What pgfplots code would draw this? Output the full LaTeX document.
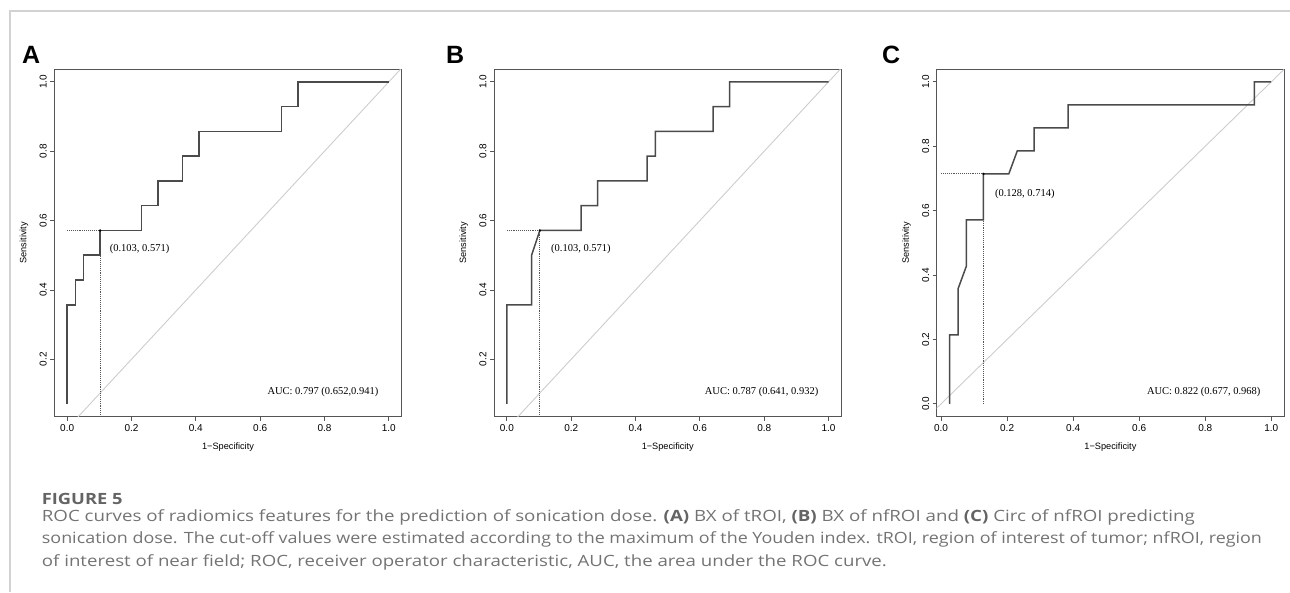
\documentclass[border=0pt]{standalone}
\usepackage{fontspec}
\usepackage{graphicx}
\usepackage{pgfplots}
\pgfplotsset{compat=1.18}
\setmainfont{Liberation Serif}
\newfontfamily\helv{Liberation Sans}
\newfontfamily\capfont{Open Sans}
\newcommand\tickfont{\helv\fontsize{10}{12}\selectfont}
\newcommand\labfont{\helv\fontsize{9.2}{11}\selectfont}
\definecolor{boxgray}{RGB}{85,85,85}
\definecolor{curvegray}{RGB}{75,75,75}
\definecolor{diaggray}{RGB}{205,205,205}
\definecolor{framegray}{RGB}{210,210,210}
\definecolor{capgray}{RGB}{115,115,115}
\definecolor{capbold}{RGB}{100,100,100}

\pgfplotsset{
  rocaxis/.style={
    scale only axis, width=347.4pt, height=347.7pt,
    axis line style={draw=boxgray, line width=1pt},
    tick style={draw=boxgray, line width=0.8pt},
    major tick length=4pt, tick align=outside,
    xtick pos=left, ytick pos=left,
    xtick={0,0.2,...,1.0},
    xticklabel={\tickfont\pgfmathprintnumber[fixed,fixed zerofill,precision=1,assume math mode=true]{\tick}},
    yticklabel={\tickfont\pgfmathprintnumber[fixed,fixed zerofill,precision=1,assume math mode=true]{\tick}},
    yticklabel style={rotate=90, anchor=south},
    xlabel={\labfont 1\textminus Specificity}, ylabel={\labfont Sensitivity},
    every axis x label/.style={at={(axis description cs:0.5,-0.087)},anchor=center},
    every axis y label/.style={at={(axis description cs:-0.087,0.5)},rotate=90,anchor=center},
  },
}
\tikzset{
  roc/.style={curvegray, line width=1.5pt, line join=miter},
  diag/.style={diaggray, line width=0.9pt},
  cut/.style={boxgray, line width=0.9pt, densely dotted},
  txt/.style={font=\fontsize{10.5}{12}\selectfont, inner sep=0pt},
}

\begin{document}
\begin{tikzpicture}
\path[use as bounding box] (0,0) rectangle (1290pt,-592pt);

% panel A
\begin{axis}[rocaxis, at={(54.3pt,-416.7pt)}, anchor=south west,
  xmin=-0.04, xmax=1.04, ymin=0.0343, ymax=1.0371, ytick={0.2,0.4,...,1.0}]
\addplot[diag] coordinates {(-0.1,-0.1)(1.1,1.1)};
\addplot[cut] coordinates {(0,0.5714)(0.1026,0.5714)(0.1026,0)};
\addplot[roc] coordinates {(0,0.0714)(0,0.3571)(0.0256,0.3571)(0.0256,0.4286)(0.0513,0.4286)(0.0513,0.5)(0.1026,0.5)(0.1026,0.5714)(0.2308,0.5714)(0.2308,0.6429)(0.2821,0.6429)(0.2821,0.7143)(0.3590,0.7143)(0.3590,0.7857)(0.4103,0.7857)(0.4103,0.8571)(0.6667,0.8571)(0.6667,0.9286)(0.7179,0.9286)(0.7179,1)(1,1)};
\addplot[black, only marks, mark=*, mark size=1pt] coordinates {(0.1026,0.5714)};
\node[txt, anchor=west] at (axis cs:0.132,0.519) {(0.103, 0.571)};
\node[txt, anchor=east] at (axis cs:0.968,0.106) {AUC: 0.797 (0.652,0.941)};
\end{axis}

% panel B
\begin{axis}[rocaxis, at={(494pt,-416.7pt)}, anchor=south west,
  xmin=-0.04, xmax=1.04, ymin=0.0343, ymax=1.0371, ytick={0.2,0.4,...,1.0}]
\addplot[diag] coordinates {(-0.1,-0.1)(1.1,1.1)};
\addplot[cut] coordinates {(0,0.5714)(0.1026,0.5714)(0.1026,0)};
\addplot[roc] coordinates {(0,0.0714)(0,0.3571)(0.0769,0.3571)(0.0769,0.5)(0.1026,0.5714)(0.2308,0.5714)(0.2308,0.6429)(0.2821,0.6429)(0.2821,0.7143)(0.4359,0.7143)(0.4359,0.7857)(0.4615,0.7857)(0.4615,0.8571)(0.6410,0.8571)(0.6410,0.9286)(0.6923,0.9286)(0.6923,1)(1,1)};
\addplot[black, only marks, mark=*, mark size=1pt] coordinates {(0.1026,0.5714)};
\node[txt, anchor=west] at (axis cs:0.137,0.519) {(0.103, 0.571)};
\node[txt, anchor=east] at (axis cs:0.969,0.106) {AUC: 0.787 (0.641, 0.932)};
\end{axis}

% panel C
\begin{axis}[rocaxis, at={(936.7pt,-416.7pt)}, anchor=south west,
  xmin=-0.0133, xmax=1.039, ymin=-0.04, ymax=1.04, ytick={0,0.2,...,1.0}]
\addplot[diag] coordinates {(-0.1,-0.1)(1.1,1.1)};
\addplot[cut] coordinates {(0,0.7143)(0.1282,0.7143)(0.1282,0)};
\addplot[roc] coordinates {(0.0256,0)(0.0256,0.2143)(0.0513,0.2143)(0.0513,0.3571)(0.0769,0.4286)(0.0769,0.5714)(0.1282,0.5714)(0.1282,0.7143)(0.2051,0.7143)(0.2308,0.7857)(0.2821,0.7857)(0.2821,0.8571)(0.3846,0.8571)(0.3846,0.9286)(0.9487,0.9286)(0.9487,1)(1,1)};
\addplot[black, only marks, mark=*, mark size=1pt] coordinates {(0.1282,0.7143)};
\node[txt, anchor=west] at (axis cs:0.163,0.651) {(0.128, 0.714)};
\node[txt, anchor=east] at (axis cs:0.968,0.036) {AUC: 0.822 (0.677, 0.968)};
\end{axis}

\begin{scope}[x=1pt,y=-1pt]
% frame
\draw[framegray, line width=1.2pt] (10,592) -- (10,11) -- (1290,11);
% panel letters
\node[anchor=base west, inner sep=0pt, font=\helv\bfseries\fontsize{25}{28}\selectfont] at (22,63) {A};
\node[anchor=base west, inner sep=0pt, font=\helv\bfseries\fontsize{25}{28}\selectfont] at (446,63) {B};
\node[anchor=base west, inner sep=0pt, font=\helv\bfseries\fontsize{25}{28}\selectfont] at (882,63) {C};
% caption
\begin{scope}[every node/.style={anchor=base west, inner sep=0pt, text=capgray, font=\capfont\fontsize{15.5}{18}\selectfont}]
\node at (41.7,504) {\resizebox{80.6pt}{\height}{\color{capbold}\bfseries FIGURE 5}};
\node at (41.7,521) {\resizebox{1153pt}{\height}{ROC curves of radiomics features for the prediction of sonication dose. \textcolor{capbold}{\bfseries(A)} BX of tROI, \textcolor{capbold}{\bfseries(B)} BX of nfROI and \textcolor{capbold}{\bfseries(C)} Circ of nfROI predicting}};
\node at (41.7,543) {\resizebox{1220pt}{\height}{sonication dose. The cut-off values were estimated according to the maximum of the Youden index. tROI, region of interest of tumor; nfROI, region}};
\node at (41.7,566) {\resizebox{845pt}{\height}{of interest of near field; ROC, receiver operator characteristic, AUC, the area under the ROC curve.}};
\end{scope}
\end{scope}
\end{tikzpicture}
\end{document}
